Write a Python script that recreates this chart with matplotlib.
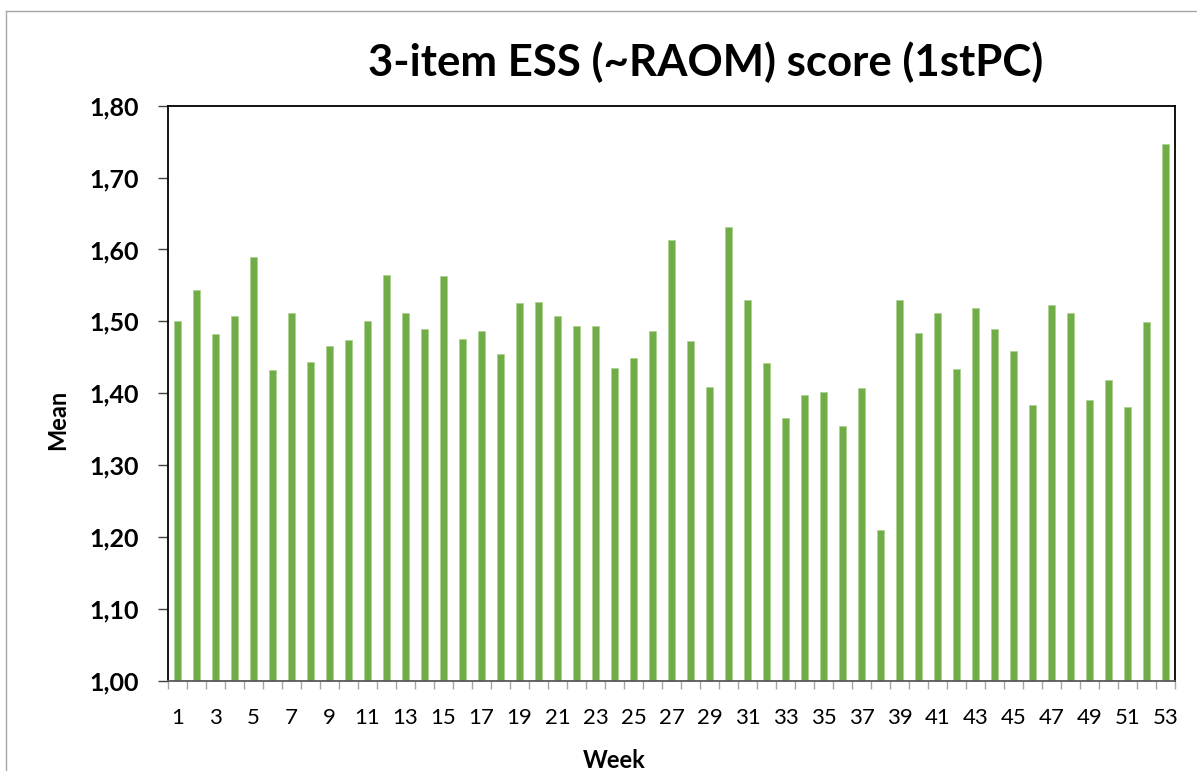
import matplotlib
matplotlib.use("Agg")
import matplotlib.pyplot as plt
from matplotlib.lines import Line2D
from matplotlib.ticker import FuncFormatter, FixedLocator
import numpy as np

weeks = list(range(1, 54))
means = [1.501, 1.544, 1.482, 1.508, 1.590, 1.432, 1.512, 1.443, 1.466, 1.474,
         1.500, 1.565, 1.511, 1.489, 1.563, 1.475, 1.486, 1.455, 1.525, 1.527,
         1.508, 1.494, 1.493, 1.435, 1.449, 1.487, 1.613, 1.473, 1.409, 1.631,
         1.530, 1.442, 1.366, 1.397, 1.402, 1.355, 1.407, 1.210, 1.530, 1.484,
         1.512, 1.433, 1.519, 1.489, 1.459, 1.383, 1.523, 1.511, 1.390, 1.419,
         1.381, 1.499, 1.747]
title = "3-item ESS (~RAOM) score (1stPC)"
xlabel = "Week"
ylabel = "Mean"
yticks = [1.00, 1.10, 1.20, 1.30, 1.40, 1.50, 1.60, 1.70, 1.80]

plt.rcParams['font.family'] = ['Lato', 'DejaVu Sans']

W, H = 1197, 771
fig = plt.figure(figsize=(W / 100, H / 100), dpi=100)
ax = fig.add_axes([168 / W, 1 - 680.7 / H, (1175 - 168) / W, (680.7 - 105.7) / H])

ax.bar(weeks, means, width=0.42, bottom=0, color="#70AD47", edgecolor="#A9D18E", linewidth=0.5)
ax.set_xlim(0.5, 53.5)
ax.set_ylim(1.0, 1.8)

ax.yaxis.set_major_locator(FixedLocator(yticks))
ax.yaxis.set_major_formatter(FuncFormatter(lambda v, p: f"{v:.2f}".replace(".", ",")))
ax.tick_params(axis="y", labelsize=18, length=7, width=1, color="#404040", pad=14)
for lab in ax.get_yticklabels():
    lab.set_fontweight("bold")

ax.set_xticks(np.arange(0.5, 54, 1.0))
ax.set_xticklabels([])
ax.set_xticks(weeks[::2], minor=True)
ax.set_xticklabels([str(w) for w in weeks[::2]], minor=True)
ax.tick_params(axis="x", which="major", length=6, width=1, color="#A6A6A6")
ax.tick_params(axis="x", which="minor", length=0, labelsize=16, pad=20)

for s in ["left", "top", "right"]:
    ax.spines[s].set_color("black")
    ax.spines[s].set_linewidth(1.3)
ax.spines["bottom"].set_color("#595959")
ax.spines["bottom"].set_linewidth(1.3)

fig.text(706 / W, 1 - 62 / H, title, ha="center", va="center", fontsize=31.5, fontweight="bold")
fig.text(614 / W, 1 - 760 / H, xlabel, ha="center", va="center", fontsize=17, fontweight="bold")
fig.text(58 / W, 1 - 420 / H, ylabel, ha="center", va="center", fontsize=17, fontweight="bold", rotation=90)

fig.add_artist(Line2D([6 / W, 1.0], [1 - 11 / H, 1 - 11 / H], transform=fig.transFigure, color="#A6A6A6", lw=1))
fig.add_artist(Line2D([6 / W, 6 / W], [1 - 11 / H, 0], transform=fig.transFigure, color="#A6A6A6", lw=1))

fig.savefig("out.png", dpi=100)
